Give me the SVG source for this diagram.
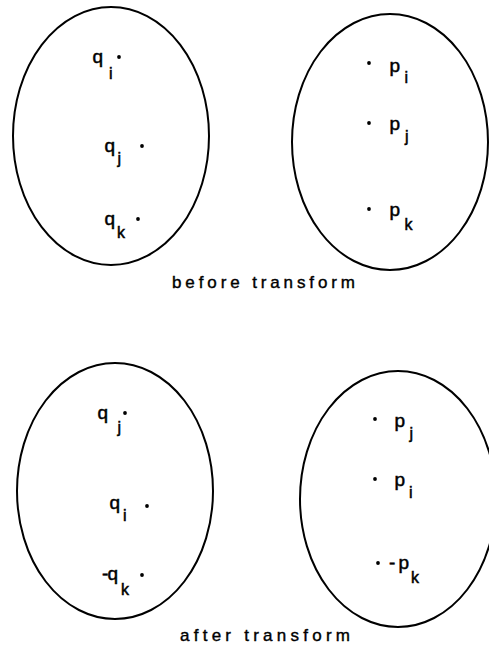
<svg xmlns="http://www.w3.org/2000/svg" width="489" height="645" viewBox="0 0 489 645">
<style>
.set{fill:none;stroke:#000;stroke-width:2}
.v{font-family:"Liberation Sans",Arial,sans-serif;font-size:19px;fill:#000;stroke:#000;stroke-width:0.5}
.s{font-family:"Liberation Sans",Arial,sans-serif;font-size:16px;fill:#000;stroke:#000;stroke-width:0.5}
.t{font-family:"Liberation Sans",Arial,sans-serif;font-size:17px;fill:#000;stroke:#000;stroke-width:0.4}
.d{fill:#000}
</style>
<rect width="489" height="645" fill="#fff"/>
<g id="connectors"></g>
<g id="before-q">
<ellipse class="set" cx="111" cy="136" rx="98" ry="129"/>
<text class="v" x="92.5" y="63">q</text><text class="s" x="109" y="79">i</text><circle class="d" cx="119" cy="57" r="1.9"/>
<text class="v" x="104.5" y="152">q</text><text class="s" x="117.5" y="164">j</text><circle class="d" cx="142" cy="146" r="1.9"/>
<text class="v" x="104.5" y="225">q</text><text class="s" x="117" y="238">k</text><circle class="d" cx="138" cy="219" r="1.9"/>
</g>
<g id="before-p">
<ellipse class="set" cx="390" cy="142" rx="98" ry="128"/>
<circle class="d" cx="369" cy="63" r="1.9"/><text class="v" x="389.5" y="72">p</text><text class="s" x="404.5" y="83">i</text>
<circle class="d" cx="369" cy="123" r="1.9"/><text class="v" x="389.5" y="130">p</text><text class="s" x="405" y="141.5">j</text>
<circle class="d" cx="369" cy="209" r="1.9"/><text class="v" x="389.5" y="216">p</text><text class="s" x="404.5" y="230">k</text>
</g>
<text id="label-before" class="t" x="172" y="288" textLength="183" lengthAdjust="spacing">before transform</text>
<g id="after-q">
<ellipse class="set" cx="115" cy="491" rx="98" ry="128"/>
<text class="v" x="97.5" y="419">q</text><text class="s" x="117.5" y="433">j</text><circle class="d" cx="125" cy="413" r="1.9"/>
<text class="v" x="109.5" y="509">q</text><text class="s" x="123" y="521">i</text><circle class="d" cx="147" cy="506" r="1.9"/>
<text class="v" x="102" y="580">-</text><text class="v" x="107.5" y="580">q</text><text class="s" x="121" y="595">k</text><circle class="d" cx="142" cy="575" r="1.9"/>
</g>
<g id="after-p">
<ellipse class="set" cx="398" cy="499" rx="98" ry="128"/>
<circle class="d" cx="375" cy="419" r="1.9"/><text class="v" x="394.5" y="427">p</text><text class="s" x="409.5" y="439">j</text>
<circle class="d" cx="375" cy="479" r="1.9"/><text class="v" x="394.5" y="486">p</text><text class="s" x="409" y="498">i</text>
<circle class="d" cx="378" cy="563" r="1.9"/><text class="v" x="389" y="569">-</text><text class="v" x="398.5" y="569">p</text><text class="s" x="411" y="583">k</text>
</g>
<text id="label-after" class="t" x="180" y="641" textLength="170" lengthAdjust="spacing">after transform</text>
</svg>
